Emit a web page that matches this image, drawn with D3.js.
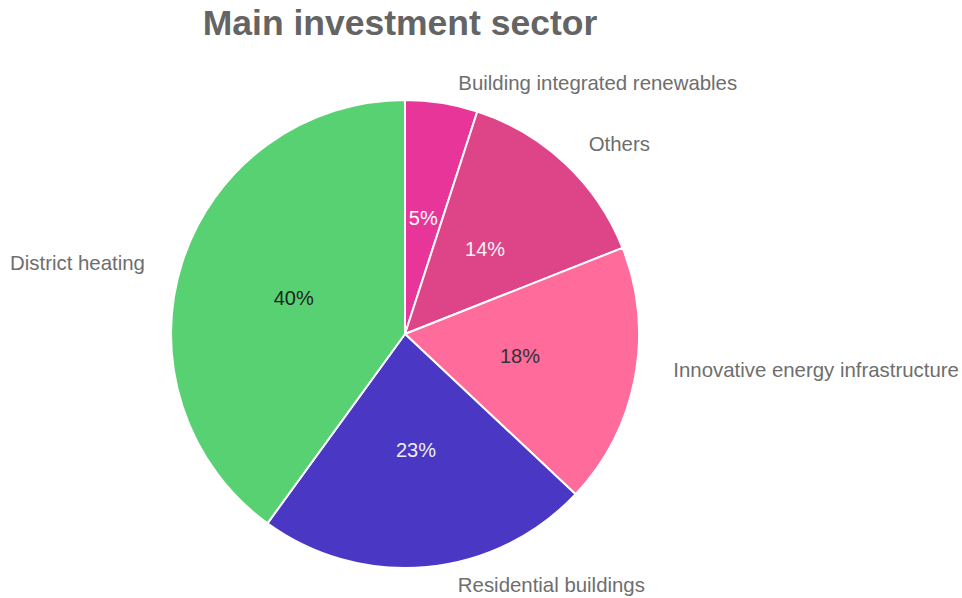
<!DOCTYPE html>
<html>
<head>
<meta charset="utf-8">
<script src="https://cdn.jsdelivr.net/npm/d3@7"></script>
<style>
  html, body { margin: 0; padding: 0; background: #ffffff; }
  svg { display: block; font-family: "Liberation Sans", Arial, sans-serif; }
</style>
</head>
<body>
<svg id="chart" width="962" height="598"></svg>
<script>
// Investment shares by sector, clockwise from 12 o'clock
const sectors = [
  "Building integrated renewables",
  "Others",
  "Innovative energy infrastructure",
  "Residential buildings",
  "District heating"
];
const shares = [5, 14, 18, 23, 40];
const sliceColors = ["#e8359a", "#de4588", "#ff6b9b", "#4a37c4", "#58d172"];
const pctTextColors = ["#ffffff", "#f4f4f4", "#333333", "#eeeeee", "#222222"];
const titleText = "Main investment sector";

const width = 962, height = 598;
const cx = 405, cy = 334, R = 234;

const svg = d3.select("#chart");

svg.append("text")
  .attr("x", 400)
  .attr("y", 35)
  .attr("text-anchor", "middle")
  .attr("font-size", 35.5)
  .attr("font-weight", "bold")
  .attr("fill", "#646464")
  .text(titleText);

const data = sectors.map((name, i) => ({ name, value: shares[i], i }));

const pie = d3.pie().value(d => d.value).sort(null);
const arcs = pie(data);

const arc = d3.arc().innerRadius(0).outerRadius(R);
const inner = d3.arc().innerRadius(R * 0.5).outerRadius(R * 0.5);
const outer = d3.arc().innerRadius(R + 30).outerRadius(R + 30);

const g = svg.append("g").attr("transform", `translate(${cx},${cy})`);

g.selectAll("path.slice")
  .data(arcs)
  .join("path")
  .attr("class", "slice")
  .attr("d", arc)
  .attr("fill", d => sliceColors[d.data.i])
  .attr("stroke", "#ffffff")
  .attr("stroke-width", 2)
  .attr("stroke-linejoin", "round");

// Percentage labels inside the slices
g.selectAll("text.pct")
  .data(arcs)
  .join("text")
  .attr("class", "pct")
  .attr("transform", d => `translate(${inner.centroid(d)})`)
  .attr("text-anchor", "middle")
  .attr("dominant-baseline", "central")
  .attr("font-size", 20)
  .attr("fill", d => pctTextColors[d.data.i])
  .text(d => d3.format(".0f")(d.data.value) + "%");

// Category labels outside the pie; small nudges keep them clear of the rim
const labelNudge = [[12, 10], [3, 2], [9, -13], [28, -12], [-9, 11]];

g.selectAll("text.name")
  .data(arcs)
  .join("text")
  .attr("class", "name")
  .attr("transform", d => {
    const [x, y] = outer.centroid(d);
    const [nx, ny] = labelNudge[d.data.i];
    return `translate(${x + nx},${y + ny})`;
  })
  .attr("text-anchor", d => ((d.startAngle + d.endAngle) / 2 < Math.PI ? "start" : "end"))
  .attr("dominant-baseline", "central")
  .attr("font-size", 20.4)
  .attr("fill", "#6e6e6e")
  .text(d => d.data.name);
</script>
</body>
</html>
